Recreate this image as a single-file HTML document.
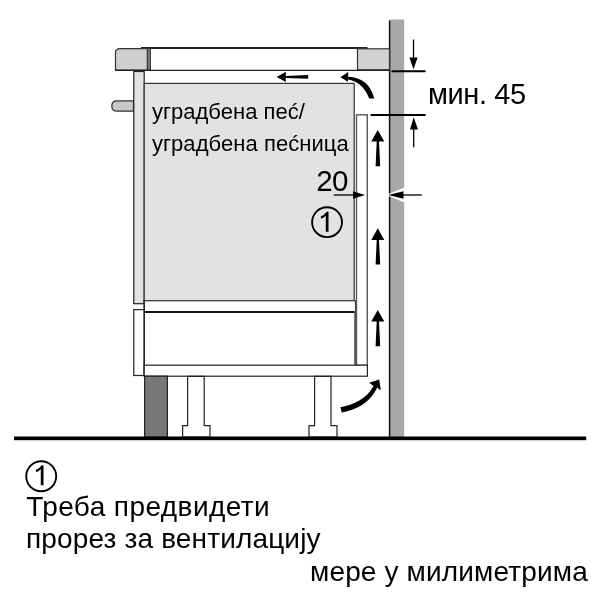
<!DOCTYPE html>
<html><head><meta charset="utf-8">
<style>
html,body{margin:0;padding:0;background:#fff;}
body{width:600px;height:600px;overflow:hidden;position:relative;}
svg{position:absolute;left:0;top:0;will-change:transform;}
text{font-family:"Liberation Sans",sans-serif;fill:#000;}
</style></head>
<body>
<svg width="600" height="600" viewBox="0 0 600 600">
<!-- wall -->
<rect x="390" y="19.5" width="14.2" height="418" fill="#a8a8a8"/>
<line x1="389.6" y1="20.5" x2="389.6" y2="437" stroke="#111" stroke-width="1.5"/>

<!-- countertop glass -->
<rect x="150.5" y="47.5" width="207" height="22.5" fill="#fff"/>
<path d="M141 48 H367.5" stroke="#222" stroke-width="2"/>
<!-- left rounded block -->
<path d="M115.5 70 V53 Q115.5 48.7 120 48.7 H147.5 V70 Z" fill="#cfcfcf" stroke="#333" stroke-width="1.2"/>
<rect x="147.3" y="48.6" width="3.1" height="21.4" fill="#7a7a7a" stroke="#333" stroke-width="1"/>
<!-- right block -->
<rect x="357.5" y="48.8" width="32" height="21" fill="#d3d3d3" stroke="#333" stroke-width="1.2"/>
<line x1="115" y1="70.3" x2="390" y2="70.3" stroke="#222" stroke-width="1.3"/>

<!-- knob -->
<path d="M133.5 100.8 H117 Q111.8 100.8 111.8 106 Q111.8 111.2 117 111.2 H133.5 Z" fill="#c8c8c8" stroke="#333" stroke-width="1.2"/>
<!-- upper post -->
<rect x="133.8" y="71.5" width="10.4" height="232.2" fill="#e2e2e2" stroke="#222" stroke-width="1.2"/>
<!-- oven body -->
<rect x="144.2" y="83.4" width="210" height="217.4" fill="#e2e2e2" stroke="#333" stroke-width="1.2"/>

<!-- cabinet side panel -->
<rect x="356.5" y="114.8" width="10.8" height="250.5" fill="#fff" stroke="#5a5a5a" stroke-width="1.4"/>
<!-- drawer -->
<rect x="144.2" y="300.8" width="211.3" height="10.9" fill="#fff" stroke="#333" stroke-width="1.1"/>
<line x1="144" y1="311.9" x2="355.5" y2="311.9" stroke="#111" stroke-width="2"/>
<line x1="355.3" y1="311" x2="355.3" y2="365" stroke="#555" stroke-width="2.2"/>
<!-- lower post -->
<rect x="133.8" y="309.6" width="10.4" height="65.9" fill="#fff" stroke="#222" stroke-width="1.2"/>
<line x1="144.2" y1="300" x2="144.2" y2="376" stroke="#222" stroke-width="1.3"/>
<!-- bottom panel -->
<rect x="144.2" y="365.2" width="223.2" height="11" fill="#fff" stroke="#222" stroke-width="1.2"/>
<!-- plinth -->
<rect x="144.6" y="376.2" width="22.8" height="61" fill="#777" stroke="#222" stroke-width="1.2"/>
<!-- feet -->
<path d="M187.6 376.4 H204.2 V425.6 H210 V437 H182.6 V425.6 H187.6 Z" fill="#fff" stroke="#222" stroke-width="1.2"/>
<path d="M314.6 376.4 H331 V425.6 H337 V437 H309 V425.6 H314.6 Z" fill="#fff" stroke="#222" stroke-width="1.2"/>
<!-- floor -->
<rect x="14" y="436.5" width="572.2" height="3.7" fill="#000"/>

<!-- straight arrow top -->
<path d="M276.7 76.9 L285.8 71.8 L285.8 75.9 L308.2 75 L308.2 78.8 L285.8 77.9 L285.8 82.1 Z" fill="#000"/>
<!-- curved arrow top -->
<path d="M340.4 77.3 L348.3 72.1 L348.1 76.7 Q369 77.5 374.2 98.5 L369.2 98.5 Q362.5 81.8 348 79.6 L347.9 81.8 Z" fill="#000"/>

<!-- up arrows in gap -->
<path transform="translate(377.75 129.9)" d="M0 0 L6.55 11.7 L1.25 11.7 L2.45 36.3 L-2.15 36.3 L-1.05 11.7 L-6.5 11.7 Z" fill="#000"/>
<path transform="translate(377.75 228.3)" d="M0 0 L6.55 11.7 L1.25 11.7 L2.45 36.3 L-2.15 36.3 L-1.05 11.7 L-6.5 11.7 Z" fill="#000"/>
<path transform="translate(377.75 309.9)" d="M0 0 L6.55 11.7 L1.25 11.7 L2.45 36.3 L-2.15 36.3 L-1.05 11.7 L-6.5 11.7 Z" fill="#000"/>

<!-- curved arrow bottom -->
<path d="M340.4 407.2 C352 405 366 400 373.6 386 L369.2 382.8 L379.2 379.4 L380.8 390.4 L377.2 387.6 C371 402 357 410 341.8 412.4 Z" fill="#000"/>

<!-- dimension 45 -->
<line x1="392.3" y1="71.2" x2="424.8" y2="71.2" stroke="#000" stroke-width="2" stroke-linecap="round"/>
<line x1="371.4" y1="114.9" x2="424.8" y2="114.9" stroke="#000" stroke-width="2" stroke-linecap="round"/>
<line x1="413.5" y1="39.5" x2="413.5" y2="58" stroke="#000" stroke-width="1.3"/>
<path d="M409.4 57.6 L417.6 57.6 L413.5 69.3 Z" fill="#000"/>
<line x1="413.7" y1="129" x2="413.7" y2="147.2" stroke="#000" stroke-width="1.3"/>
<path d="M410 129.5 L418 129.5 L413.7 117.3 Z" fill="#000"/>

<!-- dimension 20 -->
<line x1="333.7" y1="195" x2="354" y2="195" stroke="#000" stroke-width="1.3"/>
<path d="M353 191.3 L365 195 L353 198.7 Z" fill="#000"/>
<path d="M385.8 195 L404.5 187.6 L404.5 202.4 Z" fill="#fff"/>
<line x1="403" y1="195" x2="421.8" y2="195" stroke="#000" stroke-width="1.3"/>
<path d="M403.5 191.3 L388.2 195 L403.5 198.7 Z" fill="#000"/>

<!-- circle 1 in oven -->
<circle cx="327.05" cy="222.2" r="14.95" fill="none" stroke="#000" stroke-width="1.9"/>

<!-- texts -->
<text id="t_oven1" x="151.89" y="119" font-size="22" textLength="152.99" lengthAdjust="spacing">уградбена пеć/</text>
<text id="t_oven2" x="151.89" y="151" font-size="22" textLength="196.83" lengthAdjust="spacing">уградбена пеćница</text>
<text id="t_20" x="316.26" y="191" font-size="29.5" textLength="32.08" lengthAdjust="spacing">20</text>
<path transform="translate(328.5 231.7)" d="M0 0 V-20 H-1.8 Q-3.8 -16.8 -7.8 -15.3 L-7.2 -13 Q-4.6 -14.2 -2.7 -16.3 V0 Z" fill="#000"/>
<text id="t_min45" x="427.94" y="103.6" font-size="29" textLength="98.22" lengthAdjust="spacing">мин. 45</text>

<circle cx="41.2" cy="476.2" r="15" fill="none" stroke="#000" stroke-width="1.9"/>
<path transform="translate(43.5 485.3)" d="M0 0 V-20 H-1.8 Q-3.8 -16.8 -7.8 -15.3 L-7.2 -13 Q-4.6 -14.2 -2.7 -16.3 V0 Z" fill="#000"/>
<text id="t_l1" x="26.22" y="516.4" font-size="28" textLength="243.43" lengthAdjust="spacing">Треба предвидети</text>
<text id="t_l2" x="26.00" y="548" font-size="28" textLength="294.53" lengthAdjust="spacing">прорез за вентилацију</text>
<text id="t_l3" x="310.00" y="580.7" font-size="28" textLength="277.75" lengthAdjust="spacing">мере у милиметрима</text>
</svg>
</body></html>
